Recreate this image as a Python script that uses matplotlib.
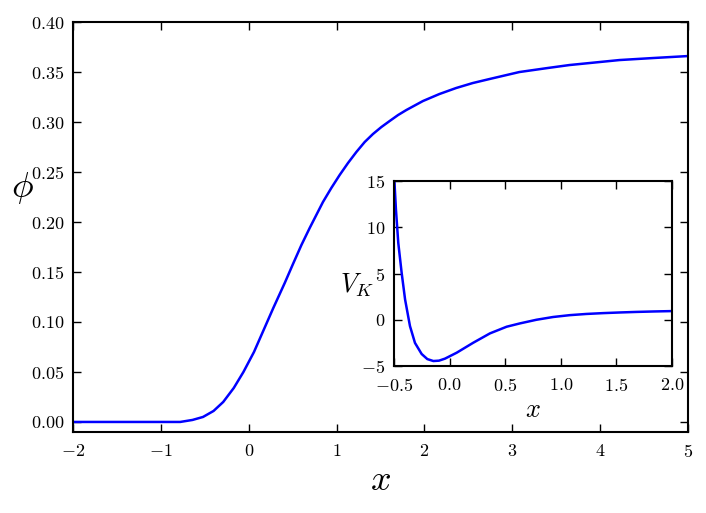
import matplotlib
matplotlib.use("Agg")
import matplotlib.pyplot as plt

plt.rcParams['font.family'] = 'serif'
plt.rcParams['font.serif'] = ['cmr10']
plt.rcParams['mathtext.fontset'] = 'cm'
plt.rcParams['axes.formatter.use_mathtext'] = True
plt.rcParams['axes.unicode_minus'] = True

# Main curve phi(x)
phi_x = [-2.0, -1.5, -1.0, -0.78, -0.64, -0.52, -0.40, -0.29, -0.17, -0.06, 0.06, 0.17,
         0.28, 0.41, 0.504, 0.60, 0.694, 0.845, 0.94, 1.035, 1.13, 1.225, 1.32, 1.414, 1.51,
         1.604, 1.70, 1.794, 1.983, 2.17, 2.36, 2.55, 2.74, 3.08, 3.40, 3.65, 4.22, 4.60, 5.0]
phi_y = [0.0, 0.0, 0.0, 0.0, 0.002, 0.005, 0.011, 0.020, 0.034, 0.050, 0.070, 0.092,
         0.114, 0.139, 0.158, 0.177, 0.194, 0.220, 0.234, 0.247, 0.259, 0.270, 0.280, 0.288,
         0.295, 0.301, 0.307, 0.312, 0.321, 0.328, 0.334, 0.339, 0.343, 0.350, 0.354, 0.357,
         0.362, 0.364, 0.366]

# Inset curve V_K(x)
vk_x = [-0.495, -0.491, -0.482, -0.461, -0.431, -0.40, -0.356, -0.311, -0.251, -0.20, -0.146,
        -0.095, -0.041, 0.064, 0.213, 0.363, 0.513, 0.633, 0.78, 0.93, 1.08, 1.23, 1.38,
        1.53, 1.68, 1.84, 2.0]
vk_y = [14.8, 13.9, 11.9, 8.3, 5.1, 2.2, -0.68, -2.5, -3.7, -4.25, -4.46,
        -4.42, -4.2, -3.56, -2.48, -1.47, -0.75, -0.39, 0.0, 0.3, 0.5, 0.63, 0.72,
        0.79, 0.85, 0.9, 0.94]

main_xticks = [-2, -1, 0, 1, 2, 3, 4, 5]
main_yticks = [0.0, 0.05, 0.10, 0.15, 0.20, 0.25, 0.30, 0.35, 0.40]
inset_xticks = [-0.5, 0.0, 0.5, 1.0, 1.5, 2.0]
inset_yticks = [-5, 0, 5, 10, 15]

fig = plt.figure(figsize=(7.06, 5.13), dpi=100)
ax = fig.add_axes([0.1034, 0.158, 0.8711, 0.799])
ax.plot(phi_x, phi_y, color='blue', lw=1.8)
ax.set_xlim(-2, 5)
ax.set_ylim(-0.01, 0.40)
ax.set_xticks(main_xticks)
ax.set_yticks(main_yticks)
ax.yaxis.set_major_formatter(matplotlib.ticker.FormatStrFormatter('$%.2f$'))
ax.set_xlabel('$x$', fontsize=26, labelpad=4)
ax.set_ylabel(r'$\phi$', fontsize=26, rotation=0, ha='center', va='center')
ax.yaxis.set_label_coords(-0.083, 0.595)

axi = fig.add_axes([0.558, 0.2865, 0.394, 0.3606])
axi.plot(vk_x, vk_y, color='blue', lw=1.8)
axi.set_xlim(-0.5, 2.0)
axi.set_ylim(-5, 15)
axi.set_xticks(inset_xticks)
axi.set_yticks(inset_yticks)
axi.xaxis.set_major_formatter(matplotlib.ticker.FormatStrFormatter('$%.1f$'))
axi.set_xlabel('$x$', fontsize=19, labelpad=3)
axi.set_ylabel('$V_K$', fontsize=19, rotation=0, ha='center', va='center')
axi.yaxis.set_label_coords(-0.133, 0.438)

for a in (ax, axi):
    a.tick_params(direction='in', top=True, right=True, length=6, width=1,
                  labelsize=13)
    a.tick_params(axis='x', pad=8)
    a.tick_params(axis='y', pad=6)
    for s in a.spines.values():
        s.set_linewidth(1.5)

fig.savefig('out.png', dpi=100, facecolor='white')
